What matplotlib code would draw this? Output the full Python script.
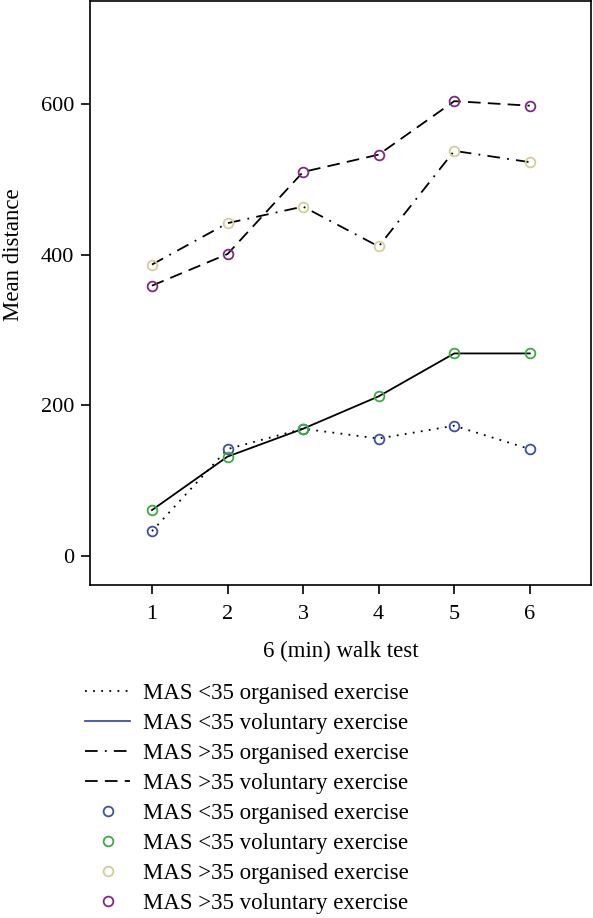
import numpy as np
import matplotlib.pyplot as plt
from matplotlib.lines import Line2D

plt.rcParams['font.family'] = ['Liberation Serif', 'DejaVu Serif']

tests = [1, 2, 3, 4, 5, 6]
low_organised = [33, 142, 169, 156, 173, 142]
low_voluntary = [61, 132, 169, 212, 269, 269]
high_organised = [387, 442, 464, 411, 538, 523]
high_voluntary = [359, 401, 510, 533, 604, 598]

labels = ['MAS <35 organised exercise', 'MAS <35 voluntary exercise',
          'MAS >35 organised exercise', 'MAS >35 voluntary exercise']
colors = ['#3b50a8', '#3aac43', '#d3cd98', '#7c2a80']

fig = plt.figure(figsize=(5.93, 9.18), dpi=100)
ax = fig.add_axes([90/593, 1 - 585/918, 501/593, 584/918])

series = [low_organised, low_voluntary, high_organised, high_voluntary]
styles = [(0, (1, 3.5)), '-', (0, (7, 4, 1, 4)), (0, (7, 4))]

for vals, ls in zip(series, styles):
    ax.plot(tests, vals, color='black', lw=1.3, ls=ls)
for vals, c in zip(series, colors):
    ax.plot(tests, vals, ls='none', marker='o', ms=7, mfc='none', mec=c, mew=1.3)

ax.set_xlim(0.18, 6.81)
ax.set_ylim(-38.5, 737)
ax.set_xticks(tests)
ax.set_yticks([0, 200, 400, 600])
ax.tick_params(labelsize=16, length=6.5, width=1.2)
ax.tick_params(axis='x', pad=8)
ax.tick_params(axis='y', pad=5)
for s in ax.spines.values():
    s.set_linewidth(1.2)
ax.set_xlabel('6 (min) walk test', fontsize=16.5, labelpad=12)
ax.set_ylabel('Mean distance', fontsize=16.5)
ax.yaxis.set_label_coords(-0.131, 0.565)

handles = [Line2D([], [], color='black', lw=1.3, ls=styles[0]),
           Line2D([], [], color=colors[0], lw=1.3, ls='-'),
           Line2D([], [], color='black', lw=1.3, ls=styles[2]),
           Line2D([], [], color='black', lw=1.3, ls=styles[3])]
handles += [Line2D([], [], ls='none', marker='o', ms=7, mfc='none', mec=c, mew=1.3)
            for c in colors]
fig.legend(handles, labels + labels, loc='upper left',
           bbox_to_anchor=(85/593, 1 - 683/918), frameon=False, fontsize=16.5,
           handlelength=1.97, handletextpad=0.57, labelspacing=0.39, borderpad=0,
           borderaxespad=0)

fig.savefig('out.png', dpi=100)
